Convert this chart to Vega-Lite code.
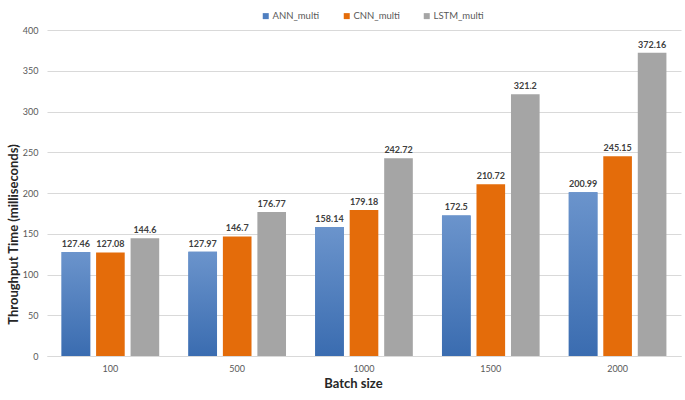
{
  "$schema": "https://vega.github.io/schema/vega-lite/v6.json",
  "width": 634,
  "height": 326,
  "autosize": {"type": "none"},
  "padding": {"left": 47, "top": 30, "right": 4, "bottom": 44},
  "background": "white",
  "config": {
    "font": "Lato",
    "view": {"stroke": null},
    "axis": {"labelFont": "Lato", "titleFont": "Lato"},
    "legend": {"labelFont": "Lato"}
  },
  "data": {
    "values": [
      {"batch": "100", "model": "ANN_multi", "value": 127.46},
      {"batch": "100", "model": "CNN_multi", "value": 127.08},
      {"batch": "100", "model": "LSTM_multi", "value": 144.6},
      {"batch": "500", "model": "ANN_multi", "value": 127.97},
      {"batch": "500", "model": "CNN_multi", "value": 146.7},
      {"batch": "500", "model": "LSTM_multi", "value": 176.77},
      {"batch": "1000", "model": "ANN_multi", "value": 158.14},
      {"batch": "1000", "model": "CNN_multi", "value": 179.18},
      {"batch": "1000", "model": "LSTM_multi", "value": 242.72},
      {"batch": "1500", "model": "ANN_multi", "value": 172.5},
      {"batch": "1500", "model": "CNN_multi", "value": 210.72},
      {"batch": "1500", "model": "LSTM_multi", "value": 321.2},
      {"batch": "2000", "model": "ANN_multi", "value": 200.99},
      {"batch": "2000", "model": "CNN_multi", "value": 245.15},
      {"batch": "2000", "model": "LSTM_multi", "value": 372.16}
    ]
  },
  "encoding": {
    "x": {
      "field": "batch",
      "type": "nominal",
      "sort": ["100", "500", "1000", "1500", "2000"],
      "scale": {"paddingInner": 0.23, "paddingOuter": 0.115},
      "axis": {
        "title": "Batch size",
        "titleFontSize": 13,
        "titleFontWeight": "bold",
        "titleColor": "#262626",
        "titleX": 306,
        "titleY": 21,
        "titleAlign": "center",
        "labelAngle": 0,
        "labelFontSize": 9,
        "labelColor": "#595959",
        "labelPadding": 8,
        "ticks": false,
        "domainColor": "#d9d9d9",
        "domainWidth": 1
      }
    },
    "xOffset": {
      "field": "model",
      "type": "nominal",
      "sort": ["ANN_multi", "CNN_multi", "LSTM_multi"],
      "scale": {"domain": ["ANN_multi", "CNN_multi", "LSTM_multi"], "paddingInner": 0.17, "paddingOuter": 0}
    },
    "y": {
      "field": "value",
      "type": "quantitative",
      "scale": {"domain": [0, 400], "nice": false},
      "axis": {
        "title": "Throughput Time (milliseconds)",
        "titleFontSize": 13,
        "titleFontWeight": "bold",
        "titleColor": "#262626",
        "titleAngle": -90,
        "titleAlign": "center",
        "titleBaseline": "middle",
        "titleX": -34,
        "titleY": 204,
        "values": [0, 50, 100, 150, 200, 250, 300, 350, 400],
        "labelFontSize": 9,
        "labelColor": "#595959",
        "labelPadding": 9,
        "ticks": false,
        "domain": false,
        "gridColor": "#d9d9d9",
        "gridWidth": 1
      }
    }
  },
  "layer": [
    {
      "mark": {"type": "bar"},
      "encoding": {
        "color": {
          "field": "model",
          "type": "nominal",
          "scale": {"domain": ["ANN_multi", "CNN_multi", "LSTM_multi"], "range": ["#4f7fc0", "#e46c0a", "#a5a5a5"]},
          "legend": {
            "title": null,
            "orient": "none",
            "direction": "horizontal",
            "legendX": 214,
            "legendY": -19,
            "symbolType": "square",
            "symbolSize": 36,
            "symbolStrokeWidth": 0,
            "labelFontSize": 9.5,
            "labelColor": "#595959",
            "labelOffset": 2,
            "columnPadding": 22
          }
        }
      }
    },
    {
      "transform": [{"filter": "datum.model === 'ANN_multi'"}],
      "mark": {
        "type": "bar",
        "color": {
          "gradient": "linear",
          "x1": 0, "y1": 0, "x2": 0, "y2": 1,
          "stops": [
            {"offset": 0, "color": "#6b94cc"},
            {"offset": 1, "color": "#3a6cb0"}
          ]
        }
      }
    },
    {
      "mark": {"type": "text", "dy": -5, "baseline": "alphabetic", "fontSize": 9, "fontWeight": "bold", "color": "#404040"},
      "encoding": {"text": {"field": "value", "type": "quantitative"}}
    }
  ]
}
